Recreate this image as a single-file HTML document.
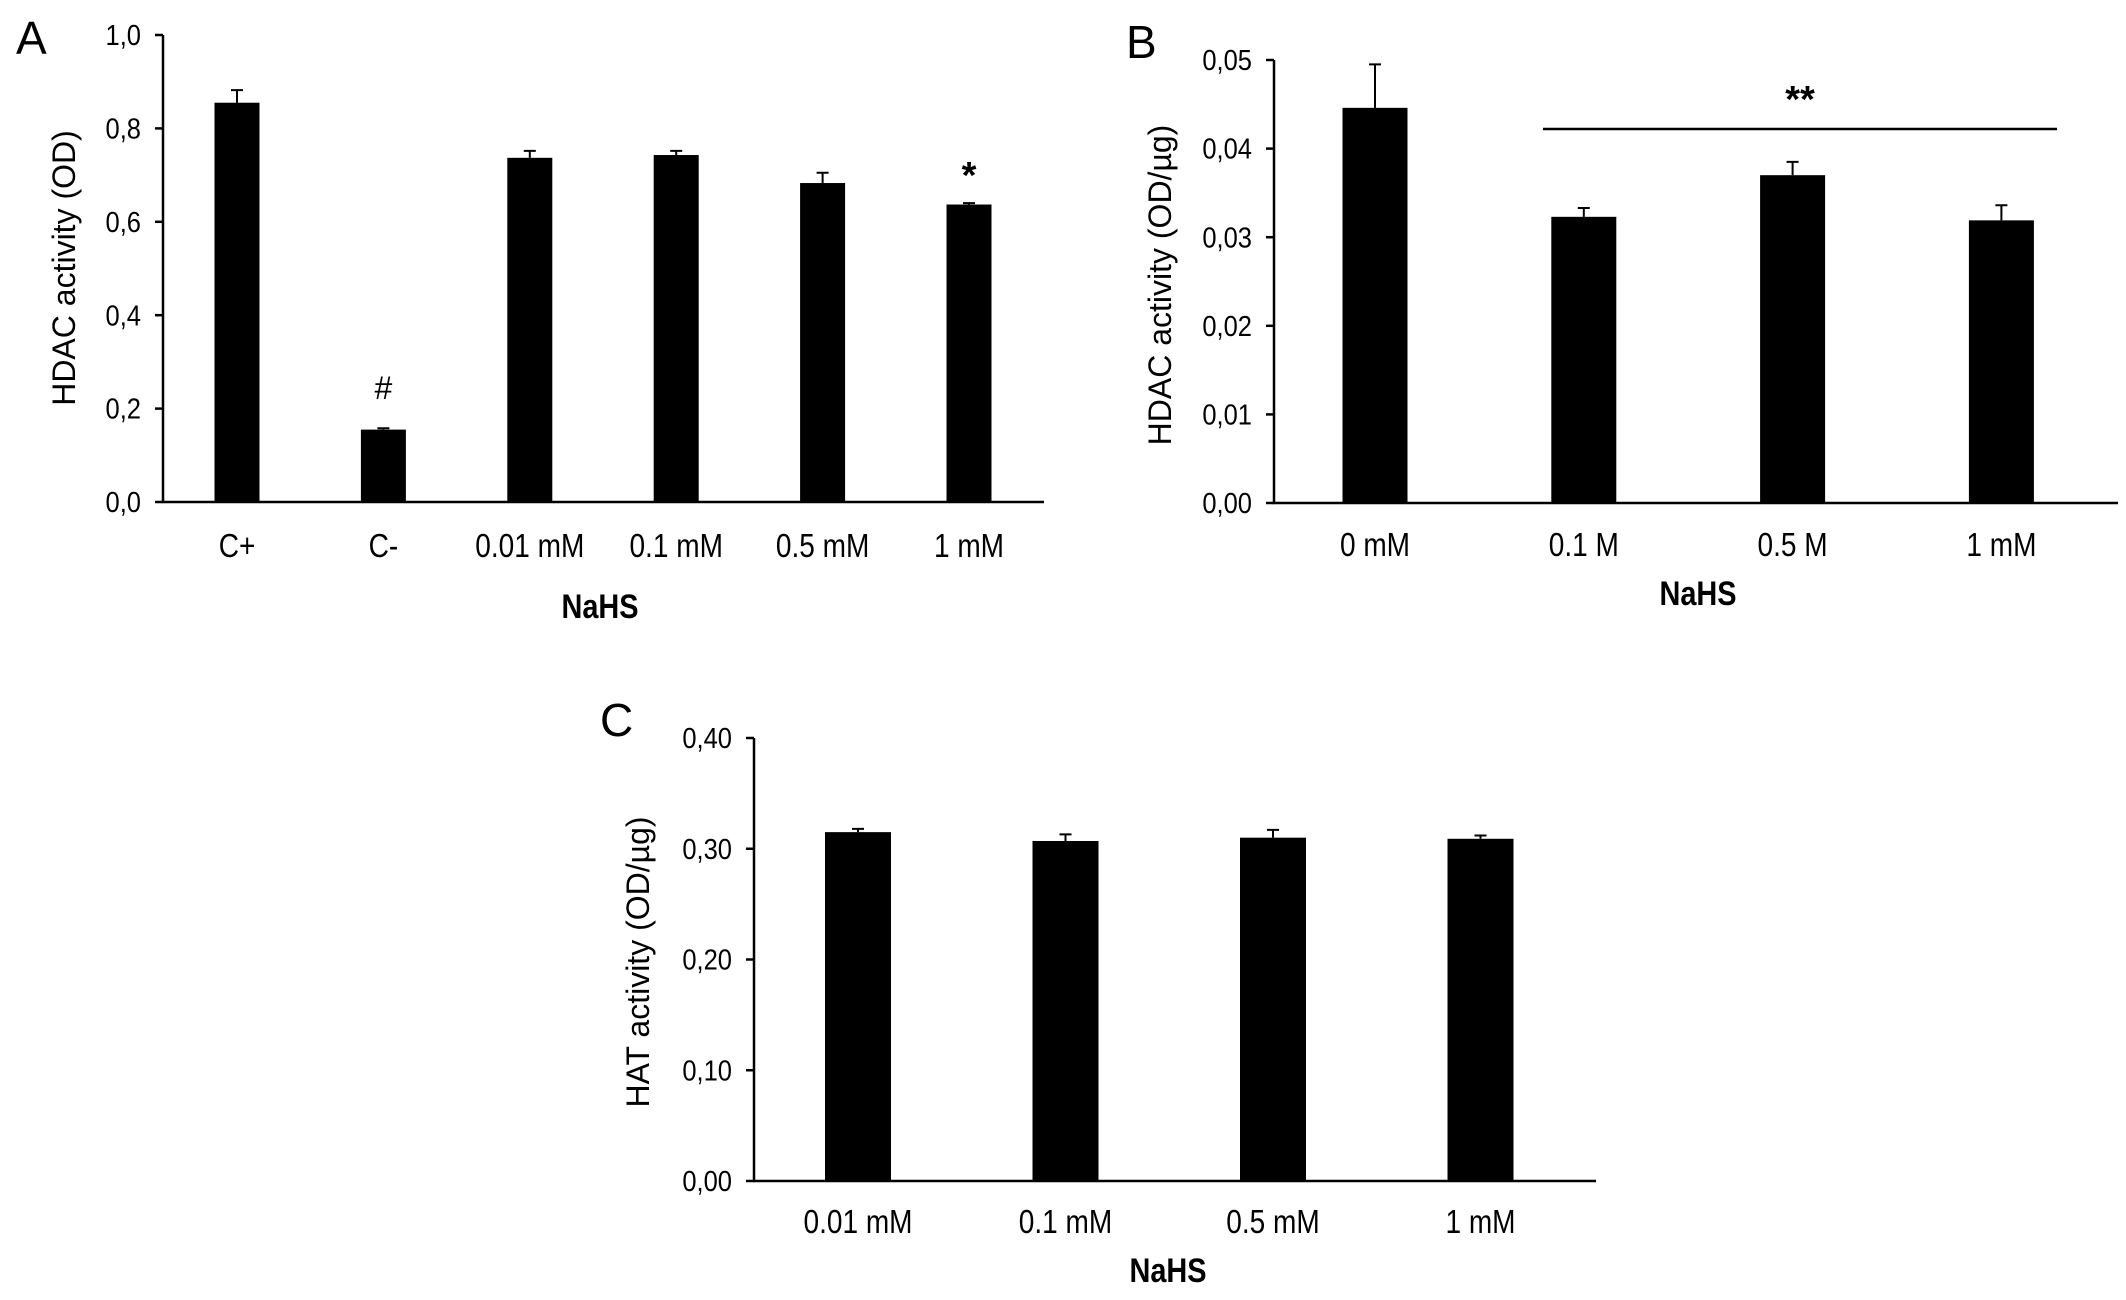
<!DOCTYPE html>
<html><head><meta charset="utf-8"><style>
html,body{margin:0;padding:0;background:#fff;}
svg{display:block;font-family:"Liberation Sans",Arial,sans-serif;}
</style></head><body>
<svg id="fig" width="2126" height="1300" viewBox="0 0 2126 1300" xmlns="http://www.w3.org/2000/svg">
<rect width="2126" height="1300" fill="#fff"/>
</svg>
<script>
const catsA = ["C+","C-","0.01 mM","0.1 mM","0.5 mM","1 mM"];
const valsA = [0.855,0.155,0.737,0.743,0.683,0.637];
const errsA = [0.027,0.003,0.015,0.009,0.022,0.003];
const ticksA = ["0,0","0,2","0,4","0,6","0,8","1,0"];
const tickValsA = [0,0.2,0.4,0.6,0.8,1.0];

const catsB = ["0 mM","0.1 M","0.5 M","1 mM"];
const valsB = [0.0446,0.0323,0.0370,0.0319];
const errsB = [0.0049,0.0010,0.0015,0.0017];
const ticksB = ["0,00","0,01","0,02","0,03","0,04","0,05"];
const tickValsB = [0,0.01,0.02,0.03,0.04,0.05];

const catsC = ["0.01 mM","0.1 mM","0.5 mM","1 mM"];
const valsC = [0.315,0.307,0.310,0.309];
const errsC = [0.003,0.006,0.007,0.003];
const ticksC = ["0,00","0,10","0,20","0,30","0,40"];
const tickValsC = [0,0.1,0.2,0.3,0.4];

const NS="http://www.w3.org/2000/svg";
const svg=document.getElementById('fig');
function mk(tag,attrs,parent){const e=document.createElementNS(NS,tag);for(const k in attrs)e.setAttribute(k,attrs[k]);(parent||svg).appendChild(e);return e;}

function panel(o){
  const g=mk('g',{});
  
  
  const y=v=>o.y0-(v-o.vmin)/(o.vmax-o.vmin)*(o.y0-o.y1);
  const x=i=>o.x0+o.firstOff+i*o.spacing;
  o.vals.forEach((v,i)=>{
    const cx=x(i);
    const b=mk('rect',{x:cx-o.bw/2,y:y(v),width:o.bw,height:o.y0-y(v),fill:'#000'},g);
    
    
    const e=mk('path',{d:`M${cx} ${y(v)} V${y(v+o.errs[i])} M${cx-6} ${y(v+o.errs[i])} H${cx+6}`,stroke:'#000','stroke-width':2,fill:'none'},g);
    
    
    const t=mk('text',{x:0,y:0,'font-size':33,'text-anchor':'middle','dominant-baseline':'central',transform:`translate(${cx},${o.catY}) scale(0.85,1)`},g);
    t.textContent=o.cats[i];
    
    
  });
  const ax=mk('path',{d:`M${o.x0} ${o.y1} V${o.y0} H${o.xEnd}`,stroke:'#000','stroke-width':2.5,fill:'none'},g);
  
  
  o.tickVals.forEach((v,i)=>{
    const tk=mk('line',{x1:o.x0-8,x2:o.x0,y1:y(v),y2:y(v),stroke:'#000','stroke-width':2.5},g);
    
    
    const t=mk('text',{x:0,y:0,'font-size':29,'text-anchor':'end','dominant-baseline':'central',transform:`translate(${o.x0-22},${y(v)}) scale(0.88,1)`},g);
    t.textContent=o.ticks[i];
    
    
  });
  const yt=mk('text',{x:0,y:0,'font-size':32,'text-anchor':'middle','dominant-baseline':'central',transform:`translate(${o.titleX},${o.titleY}) rotate(-90)`},g);
  yt.textContent=o.ytitle;
  
  
  const xt=mk('text',{x:0,y:0,'font-size':34,'font-weight':'bold','text-anchor':'middle','dominant-baseline':'central',transform:`translate(${o.nahsX},${o.nahsY}) scale(0.85,1)`},g);
  xt.textContent='NaHS';
  
  
  const pl=mk('text',{x:o.lx,y:o.ly,'font-size':46,'dominant-baseline':'central'},g);
  pl.textContent=o.letter;
  
  
  return {g,y,x};
}

const A=panel({name:'panel-a',cats:catsA,vals:valsA,errs:errsA,ticks:ticksA,tickVals:tickValsA,vmin:0,vmax:1,
  x0:163,xEnd:1044,y0:502,y1:35,firstOff:74,spacing:146.4,bw:45,catY:546,ytitle:'HDAC activity (OD)',titleX:64,titleY:268,
  nahsX:600,nahsY:606,letter:'A',lx:16,ly:38});
const B=panel({name:'panel-b',cats:catsB,vals:valsB,errs:errsB,ticks:ticksB,tickVals:tickValsB,vmin:0,vmax:0.05,
  x0:1274,xEnd:2118,y0:503,y1:60,firstOff:101,spacing:208.8,bw:65,catY:545,ytitle:'HDAC activity (OD/µg)',titleX:1160,titleY:285,
  nahsX:1698,nahsY:593,letter:'B',lx:1126,ly:42});
const sig=mk('line',{x1:1543,x2:2057,y1:129,y2:129,stroke:'#000','stroke-width':2.5},B.g);


const st=mk('text',{x:1800,y:100,'font-size':38,'font-weight':'bold','text-anchor':'middle','dominant-baseline':'central'},B.g);
st.textContent='**';


const h=mk('text',{x:A.x(1),y:388,'font-size':32,'text-anchor':'middle','dominant-baseline':'central'},A.g);
h.textContent='#';


const s=mk('text',{x:A.x(5),y:176,'font-size':38,'font-weight':'bold','text-anchor':'middle','dominant-baseline':'central'},A.g);
s.textContent='*';


panel({name:'panel-c',cats:catsC,vals:valsC,errs:errsC,ticks:ticksC,tickVals:tickValsC,vmin:0,vmax:0.4,
  x0:754,xEnd:1596,y0:1181,y1:738,firstOff:104,spacing:207.5,bw:66,catY:1222,ytitle:'HAT activity (OD/µg)',titleX:638,titleY:962,
  nahsX:1168,nahsY:1270,letter:'C',lx:600,ly:720});
</script>
</body></html>
